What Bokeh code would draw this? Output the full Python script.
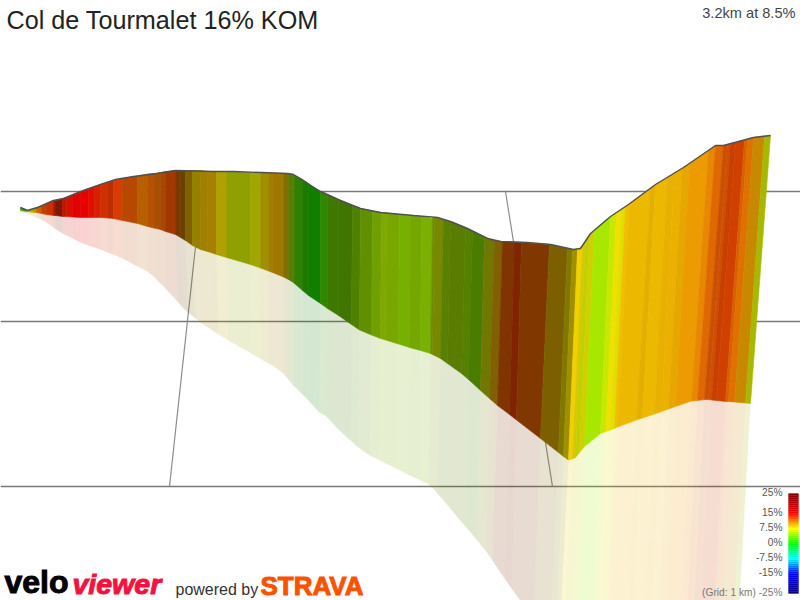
from bokeh.plotting import figure
from bokeh.embed import file_html
from bokeh.resources import INLINE
from bokeh.models import Range1d
from bokeh.core.properties import value
import numpy as np

top_x = [20,26,33,36,41,46,53,55,62,66,72,80,88,94,100,107,113,122,137,147,153,160,165,175,180,185,192,200,207,216,226,250,260,268,272,283,288,292,294,302,308,320,327,338,352,360,372,381,386,399,410,421,432,434,443,450,465,472,484,494,502,514,521,549,567,572,577,582,585,589,594,610,616,621,625,629,650,655,667,674,682,689,708,715,723,727,730,735,744,747,753,764,770]
top_y = [207,210,208,207,206,203,200,200,198,197,194,191,188,186,184,182,180,178,175.5,173.5,173,172,171,170,170,170,170,170,171,171,171,172,172,172.5,172.5,173,173,174,175,179,183,191,194,199,205,208,210.5,212,212.5,214,215,216,218,217,219,221,227,230.5,236.5,240,241,241.5,242,244,248,249,248.5,245,240.5,234.5,229.5,216,212,208.5,206,203,187.5,184,177,172.5,167.5,163,150,145,145,144,143,142,139.5,138.5,137,135.5,135]
fold_x = [20,26,33,36,41,46,53,55,62,66,72,80,88,94,100,107,113,122,137,147,153,160,165,175,180,185,192,200,207,216,226,250,260,268,272,283,288,292,294,302,308,320,327,338,351,359,371,380,385,398,409,420,430,432,440,447,461,468,480,489,497,509,516,540,558,563,568,572,575,579,584,600,605.5,610,614,617,636,642,654,661,668,675,691,697,704,708,711,716,725,728,734,745,750]
fold_y = [210,211,212,212,213,214,215,215,216,216,216.5,217,217,217,217,217.5,218,220,223,226,227.5,229,231,234,237,240,245,249,251,254,257,264,267.5,270.5,272,276.5,279,281.5,283,290,295,303,308,315,324,329.5,334.5,338,339.5,343.5,347,350,353,354,358,363,373,379,390,398,405,414,419.5,438,452,456,459.5,458.5,457,452,446,433,431,429.5,428,426.5,419.5,417.5,413.5,411,408.5,406,400.5,400,399,399,399.5,400,401,401,401.5,402.5,403]
bottom_x = [20,26,33,36,41,46,53,55,62,66,72,80,88,94,100,107,113,122,137,147,153,160,165,177,183,188,195,202,209,218,228,251,261,268,272,283,288,292,294,302,307,319,326,337,350,358,369,378,383,396,407,418,428,430,437,444,458,465,476,485,492,504,511,533,551,556,560,564,567,571,576,592,597.5,602,606,609,627,633,644,651,658,665,680,686,693,697,699,704,713,716,722,733,738]
bottom_y = [211,213,216,217,219,222,227,228.5,233,235,238,242,245,247,249,252,254,258,266,271,276,283,288,301,308,312.5,318,323.5,328,334,340,353,359,363,365,373,379,384,386,394,399,412,416,428,440,447,455,459,462,468,474,479,484,485,493,501,518,526,539,550,560,578,588,618] + [620]*29
band_colors = ["#40a000","#a8b800","#c89000","#c86000","#c04000","#c83000","#a01800","#7f1800","#c01800","#d81000","#e00000","#e80000","#e01000","#d82000","#d03000","#b83000","#d83c00","#b84800","#b86000","#b85000","#a85000","#a84800","#a03800","#7a3800","#6a4000","#806000","#958000","#a08000","#a88000","#b0a000","#90a000","#a0a800","#a09000","#a08000","#a07800","#807000","#607800","#508000","#2f8000","#1c7a00","#107f00","#2f8800","#3f7800","#3f7500","#508000","#609000","#70a000","#80a800","#78a800","#78b000","#74a800","#7ab000","#6a9000","#788800","#5a8000","#5a7c00","#558000","#4a7c00","#707800","#806000","#803400","#802400","#803800","#7c6000","#807800","#a09000","#f0d000","#d8c800","#c0d000","#d0d000","#a8e800","#c8e800","#f0e000","#e0e000","#f0c000","#ecb800","#e4b000","#ecb800","#e8b000","#ecb000","#e4a800","#ec9c00","#e88800","#e06800","#c85000","#d05000","#c84000","#d04000","#d86000","#e07000","#c88800","#a8b800"]

profile_x = [20,27,37,53,63,83,100,115,133,157,175,213,233,260,287,293,300,310,320,340,360,380,413,437,450,467,487,500,527,550,573,580,590,610,628,655,683,715,723,753,770]
profile_y = [207,210,207,200,198,190,184,179,176,173,170,171,171,172,173,174,178,185,191,200,208,212,215,217,221,228,238,241,242,244,249,248,233,216,204,184,167,145,145,137,135]

grid_h_y = [191,321,486]
grid_d_x0 = [201,505]
grid_d_y0 = [191,191]
grid_d_x1 = [169,552]
grid_d_y1 = [486,486]

legend_stops_pct = [25,15,7.5,0,-7.5,-15,-25]
legend_stops_rgb = [(128,0,0),(255,0,0),(255,255,0),(0,255,0),(0,255,255),(0,0,255),(0,0,128)]
legend_labels = ["25%","15%","7.5%","0%","-7.5%","-15%","(Grid: 1 km) -25%"]

title = "Col de Tourmalet 16% KOM"
subtitle = "3.2km at 8.5%"
FONT = value("Liberation Sans")

p = figure(width=800, height=600, output_backend="svg", toolbar_location=None,
           x_range=Range1d(0,800), y_range=Range1d(600,0), min_border=0)
p.axis.visible = False
p.grid.visible = False
p.outline_line_color = None
p.background_fill_color = "white"
p.border_fill_color = "white"

p.segment(x0=[0]*3, y0=grid_h_y, x1=[800]*3, y1=grid_h_y, line_color="#777777", line_width=1.4)
p.segment(x0=grid_d_x0, y0=grid_d_y0, x1=grid_d_x1, y1=grid_d_y1, line_color="#8c8c8c", line_width=1.2)

n = len(band_colors)
solid_xs = [[top_x[i],top_x[i+1],fold_x[i+1],fold_x[i]] for i in range(n)]
solid_ys = [[top_y[i],top_y[i+1],fold_y[i+1],fold_y[i]] for i in range(n)]
pale_xs = [[fold_x[i],fold_x[i+1],bottom_x[i+1],bottom_x[i]] for i in range(n)]
pale_ys = [[fold_y[i],fold_y[i+1],bottom_y[i+1],bottom_y[i]] for i in range(n)]

p.patches(pale_xs, pale_ys, fill_color=band_colors, fill_alpha=0.18, line_color=None)
p.patches(solid_xs, solid_ys, fill_color=band_colors, line_color=band_colors, line_width=0.6)
p.line(profile_x, profile_y, line_color="#505050", line_width=1.4)

LX0, LX1, L0, LS = 788, 798, 543, 2.0
rows = np.arange(-25, 25, 1.0)
rev_p = legend_stops_pct[::-1]
rev_c = np.array(legend_stops_rgb[::-1], dtype=float)
cols = []
for g in rows + 0.5:
    c = [int(np.interp(g, rev_p, rev_c[:,k])) for k in range(3)]
    cols.append("#%02x%02x%02x" % tuple(c))
p.quad(left=LX0, right=LX1, bottom=L0-LS*rows, top=L0-LS*(rows+1), fill_color=cols, line_color=cols, line_width=0.3)

for s, lab in zip(legend_stops_pct, legend_labels):
    y = L0 - LS*s - 1
    p.text([782],[y],[lab], text_font=FONT, text_font_size="10.2px",
           text_align="right", text_baseline="middle", text_color="#555555" if "Grid" not in lab else "#777777")

p.text([6],[19],[title], text_font=FONT, text_font_size="25.2px", text_color="#222222", text_baseline="alphabetic")
p.text([795],[12.5],[subtitle], text_font=FONT, text_font_size="14.6px", text_color="#444444", text_align="right", text_baseline="alphabetic")

p.text([4],[581.5],["velo"], text_font=FONT, text_font_style="bold", text_font_size="32px", text_color="#000000", text_outline_color="#000000", text_baseline="alphabetic")
p.text([72],[583],["viewer"], text_font=FONT, text_font_style="bold italic", text_font_size="28.5px", text_color="#f5113f", text_outline_color="#f5113f", text_baseline="alphabetic")
p.text([175],[589],["powered by"], text_font=FONT, text_font_size="16px", text_color="#333333", text_baseline="alphabetic")
p.text([260],[585],["STRAVA"], text_font=FONT, text_font_style="bold", text_font_size="26px", text_color="#fc5200", text_outline_color="#fc5200", text_baseline="alphabetic")

open("out.html","w").write(file_html(p, INLINE))
